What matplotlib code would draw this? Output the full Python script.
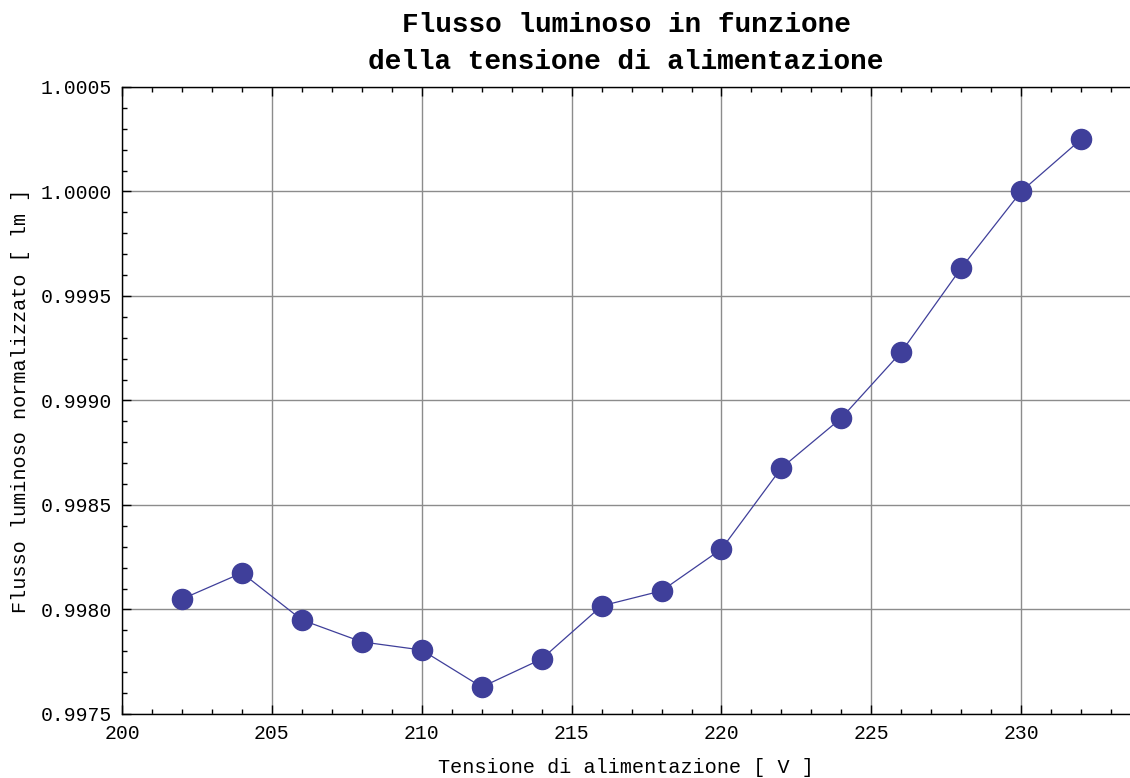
import numpy as np
import matplotlib
matplotlib.use('Agg')
import matplotlib.pyplot as plt
from matplotlib.ticker import MultipleLocator, FormatStrFormatter

# tensione [V] and normalised luminous flux
tensione = [202, 204, 206, 208, 210, 212, 214, 216, 218, 220, 222, 224, 226, 228, 230, 232]
flusso = [0.99805, 0.998175, 0.99795, 0.997845, 0.997806, 0.997629, 0.997763, 0.998017,
          0.998089, 0.998289, 0.998677, 0.998916, 0.999232, 0.999634, 1.0000, 1.00025]

title = 'Flusso luminoso in funzione\ndella tensione di alimentazione'
xlabel = 'Tensione di alimentazione [ V ]'
ylabel = 'Flusso luminoso normalizzato [ lm ]'

plt.rcParams['font.family'] = ['Liberation Mono', 'DejaVu Sans Mono']

fig = plt.figure(figsize=(11.3, 7.78), dpi=100)
ax = fig.add_axes([0.108, 0.0823, 0.892, 0.8059])  # left, bottom, width, height

ax.plot(tensione, flusso, '-', color='#3f3f9a', lw=0.9, zorder=3)
ax.plot(tensione, flusso, 'o', color='#3f3f9a', ms=14.5, mec='#3f3f9a', zorder=4)

ax.set_xlim(200, 233.63)
ax.set_ylim(0.9975, 1.0005)

ax.xaxis.set_major_locator(MultipleLocator(5))
ax.xaxis.set_minor_locator(MultipleLocator(1))
ax.yaxis.set_major_locator(MultipleLocator(0.0005))
ax.yaxis.set_minor_locator(MultipleLocator(0.0001))
ax.yaxis.set_major_formatter(FormatStrFormatter('%.4f'))

ax.grid(True, which='major', color='#8c8c8c', lw=1.0, zorder=1)
ax.tick_params(which='both', direction='in', top=True, right=False, labelsize=14.2, width=1.0)
ax.tick_params(which='major', length=6.5, pad=7)
ax.tick_params(which='minor', length=3.6)
ax.spines['right'].set_visible(False)
for s in ['left', 'bottom', 'top']:
    ax.spines[s].set_linewidth(1.0)

ax.set_title(title, fontsize=20, fontweight='bold', linespacing=1.55, pad=13)
ax.set_xlabel(xlabel, fontsize=14.5, labelpad=11)
ax.set_ylabel(ylabel, fontsize=14.5, labelpad=8)

fig.savefig('out.png', dpi=100)
